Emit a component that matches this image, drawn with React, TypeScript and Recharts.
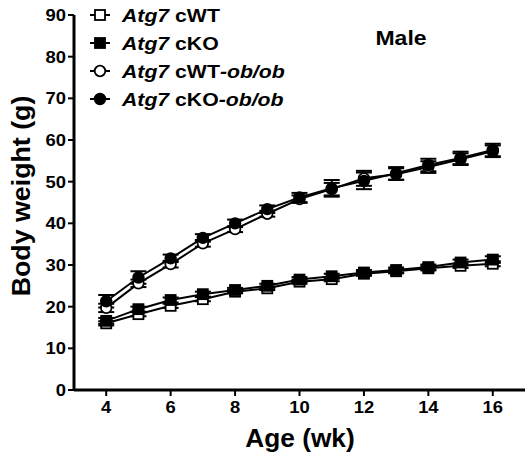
import { LineChart, Line, XAxis, YAxis, ErrorBar } from "recharts";

const ages = [4, 5, 6, 7, 8, 9, 10, 11, 12, 13, 14, 15, 16];
const cWT = [16.0, 18.2, 20.2, 21.8, 23.6, 24.4, 26.0, 26.6, 27.9, 28.5, 29.2, 29.8, 30.3];
const cKO = [16.6, 19.4, 21.6, 23.0, 24.0, 25.0, 26.5, 27.3, 28.2, 28.8, 29.5, 30.6, 31.3];
const cWTob = [19.7, 25.6, 30.2, 35.2, 38.6, 42.3, 45.8, 48.2, 50.8, 51.8, 53.5, 55.4, 57.3];
const cKOob = [21.3, 27.0, 31.6, 36.5, 40.0, 43.4, 46.2, 48.4, 50.2, 52.0, 54.0, 55.7, 57.6];
const cWTErr = [0.5, 0.5, 0.5, 0.5, 0.4, 0.4, 0.5, 0.5, 0.5, 0.5, 0.5, 0.5, 0.6];
const cKOErr = [0.7, 0.6, 0.6, 0.6, 0.5, 0.5, 0.6, 0.6, 0.6, 0.6, 0.6, 0.7, 0.8];
const cWTobErr = [1.0, 0.9, 0.8, 0.8, 0.7, 0.7, 0.9, 1.5, 1.8, 1.4, 1.4, 1.4, 1.4];
const cKOobErr = [1.5, 1.5, 0.9, 0.9, 0.9, 0.9, 1.1, 2.0, 2.0, 1.5, 1.5, 1.5, 1.5];
const xTicks = [4, 6, 8, 10, 12, 14, 16];
const yTicks = [0, 10, 20, 30, 40, 50, 60, 70, 80, 90];

const rows = ages.map((age, i) => ({
  age,
  cWT: cWT[i],
  cKO: cKO[i],
  cWTob: cWTob[i],
  cKOob: cKOob[i],
  cWTErr: cWTErr[i],
  cKOErr: cKOErr[i],
  cWTobErr: cWTobErr[i],
  cKOobErr: cKOobErr[i],
}));

const FONT = '"Liberation Sans", Arial, sans-serif';

type Shape = "square" | "circle";

function Marker({ cx, cy, shape, filled }: { cx: number; cy: number; shape: Shape; filled: boolean }) {
  const fill = filled ? "#000" : "#fff";
  if (shape === "square") {
    return <rect x={cx - 5} y={cy - 5} width={10} height={10} fill={fill} stroke="#000" strokeWidth={1.8} />;
  }
  return <circle cx={cx} cy={cy} r={5.3} fill={fill} stroke="#000" strokeWidth={1.8} />;
}

const makeDot = (shape: Shape, filled: boolean) => (props: any) => {
  const { cx, cy, index } = props;
  if (cx == null || cy == null) return <g key={index} />;
  return <Marker key={index} cx={cx} cy={cy} shape={shape} filled={filled} />;
};

const XTick = ({ x, y, payload }: any) => (
  <text
    transform={`translate(${x},${y + 15}) scale(1.15,1)`}
    textAnchor="middle"
    fontFamily={FONT}
    fontWeight="bold"
    fontSize={16}
    fill="#000"
  >
    {payload.value}
  </text>
);

const YTick = ({ x, y, payload }: any) => (
  <text
    transform={`translate(${x},${y + 6}) scale(1.15,1)`}
    textAnchor="end"
    fontFamily={FONT}
    fontWeight="bold"
    fontSize={16}
    fill="#000"
  >
    {payload.value}
  </text>
);

const legendItems: { shape: Shape; filled: boolean; label: string; ob: boolean }[] = [
  { shape: "square", filled: false, label: "cWT", ob: false },
  { shape: "square", filled: true, label: "cKO", ob: false },
  { shape: "circle", filled: false, label: "cWT", ob: true },
  { shape: "circle", filled: true, label: "cKO", ob: true },
];

export default function App() {
  return (
    <div style={{ position: "absolute", left: 0, top: 0, width: 525, height: 457, background: "#fff" }}>
      <LineChart width={525} height={457} data={rows} margin={{ top: 15, right: 0, bottom: 0, left: 0 }}>
        <XAxis
          dataKey="age"
          type="number"
          domain={[3, 17]}
          ticks={xTicks}
          height={67}
          tick={<XTick />}
          tickSize={6}
          axisLine={{ stroke: "#000", strokeWidth: 3 }}
          tickLine={{ stroke: "#000", strokeWidth: 2 }}
        />
        <YAxis
          type="number"
          domain={[0, 90]}
          ticks={yTicks}
          width={74}
          tick={<YTick />}
          tickSize={6}
          axisLine={{ stroke: "#000", strokeWidth: 3 }}
          tickLine={{ stroke: "#000", strokeWidth: 2 }}
        />
        <Line dataKey="cWT" stroke="#000" strokeWidth={2} dot={makeDot("square", false)} isAnimationActive={false}>
          <ErrorBar dataKey="cWTErr" width={8} stroke="#000" strokeWidth={2} direction="y" />
        </Line>
        <Line dataKey="cKO" stroke="#000" strokeWidth={2} dot={makeDot("square", true)} isAnimationActive={false}>
          <ErrorBar dataKey="cKOErr" width={8} stroke="#000" strokeWidth={2} direction="y" />
        </Line>
        <Line dataKey="cWTob" stroke="#000" strokeWidth={2} dot={makeDot("circle", false)} isAnimationActive={false}>
          <ErrorBar dataKey="cWTobErr" width={8} stroke="#000" strokeWidth={2} direction="y" />
        </Line>
        <Line dataKey="cKOob" stroke="#000" strokeWidth={2} dot={makeDot("circle", true)} isAnimationActive={false}>
          <ErrorBar dataKey="cKOobErr" width={8} stroke="#000" strokeWidth={2} direction="y" />
        </Line>
      </LineChart>
      <svg
        width={525}
        height={457}
        style={{ position: "absolute", left: 0, top: 0, pointerEvents: "none" }}
        fontFamily={FONT}
        fontWeight="bold"
      >
        {legendItems.map((it, i) => {
          const cy = 15 + i * 28;
          return (
            <g key={i}>
              <line x1={90} x2={110} y1={cy} y2={cy} stroke="#000" strokeWidth={2} />
              <Marker cx={100} cy={cy} shape={it.shape} filled={it.filled} />
              <text transform={`translate(122,${cy + 6.5}) scale(1.18,1)`} fontSize={18} fill="#000">
                <tspan fontStyle="italic">Atg7</tspan>
                <tspan> {it.label}</tspan>
                {it.ob ? <tspan fontStyle="italic">-ob/ob</tspan> : null}
              </text>
            </g>
          );
        })}
        <text transform="translate(401,45) scale(1.15,1)" textAnchor="middle" fontSize={20} fill="#000">
          Male
        </text>
        <text transform="translate(300,447) scale(1.05,1)" textAnchor="middle" fontSize={25} fill="#000">
          Age (wk)
        </text>
        <text transform="translate(30,196) rotate(-90) scale(1.03,1)" textAnchor="middle" fontSize={26} fill="#000">
          Body weight (g)
        </text>
      </svg>
    </div>
  );
}
